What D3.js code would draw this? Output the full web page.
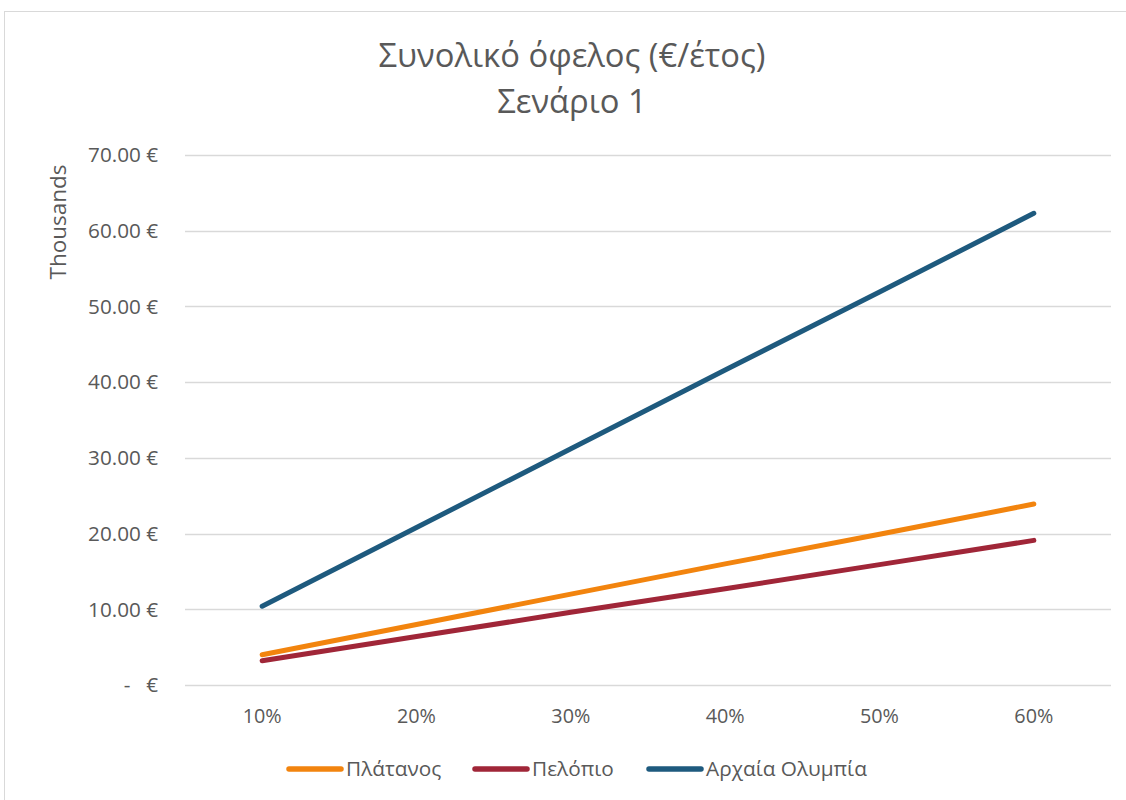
<!DOCTYPE html>
<html><head><meta charset="utf-8">
<script src="https://cdn.jsdelivr.net/npm/d3@7"></script>
<style>body{margin:0;background:#fff}svg{display:block}</style>
</head><body>
<script>
const categories = ["10%","20%","30%","40%","50%","60%"];
const seriesNames = ["Πλάτανος","Πελόπιο","Αρχαία Ολυμπία"];
const platanos = [4.0, 8.0, 12.0, 16.0, 19.9, 23.9];
const pelopio = [3.2, 6.4, 9.6, 12.7, 15.9, 19.1];
const archaiaOlympia = [10.4, 20.8, 31.2, 41.6, 51.9, 62.3];
const yTicks = [0,10,20,30,40,50,60,70];
const colors = ["#F2840E","#A02638","#1E5A7E"];
const titleLines = ["Συνολικό όφελος (€/έτος)","Σενάριο 1"];
const yAxisTitle = "Thousands";

const W=1126,H=800;
const font = "'Open Sans', sans-serif";
const txt = "#595959";
const svg=d3.select("body").append("svg").attr("width",W).attr("height",H);
svg.append("rect").attr("x",4.5).attr("y",11.5).attr("width",1140).attr("height",900)
  .attr("fill","#fff").attr("stroke","#d9d9d9").attr("stroke-width",1);

// measure helper: font size so that `sample` has width `target`
function fitSize(sample, target){
  const t=svg.append("text").attr("font-family",font).attr("font-size",20).text(sample);
  const w=t.node().getComputedTextLength(); t.remove();
  return 20*target/w;
}
const ySize=fitSize("70.00 €",70);
const xSize=fitSize("10%",39);
const legSize=fitSize("Αρχαία Ολυμπία",161);
const titleSize=fitSize(titleLines[0],387);
const yTitleSize=fitSize(yAxisTitle,115);

const plot={left:185,right:1111,top:155,bottom:685};
const x=d3.scaleBand().domain(categories).range([plot.left,plot.right]);
const y=d3.scaleLinear().domain([0,70]).range([plot.bottom,plot.top]);

// gridlines
svg.append("g").selectAll("line").data(yTicks).join("line")
  .attr("x1",plot.left).attr("x2",plot.right)
  .attr("y1",d=>Math.round(y(d))+0.5).attr("y2",d=>Math.round(y(d))+0.5)
  .attr("stroke","#d9d9d9").attr("stroke-width",1.5);

// y labels
const yl=svg.append("g").attr("font-family",font).attr("font-size",ySize).attr("fill",txt);
yTicks.forEach(d=>{
  if(d===0){
    yl.append("text").attr("x",127).attr("y",y(d)).attr("dy","0.35em").attr("text-anchor","middle").text("-");
    yl.append("text").attr("x",158).attr("y",y(d)).attr("dy","0.35em").attr("text-anchor","end").text("€");
  } else {
    yl.append("text").attr("x",158).attr("y",y(d)).attr("dy","0.35em").attr("text-anchor","end").text(d3.format(".2f")(d)+" €");
  }
});

// y axis title
svg.append("text").attr("transform","translate(58,222) rotate(-90)").attr("text-anchor","middle")
  .attr("dy","0.35em").attr("font-family",font).attr("font-size",yTitleSize).attr("fill",txt).text(yAxisTitle);

// x labels
svg.append("g").selectAll("text").data(categories).join("text")
  .attr("x",d=>x(d)+x.bandwidth()/2).attr("y",716).attr("dy","0.35em").attr("text-anchor","middle")
  .attr("font-family",font).attr("font-size",xSize).attr("fill",txt).text(d=>d);

// title
svg.append("g").selectAll("text").data(titleLines).join("text")
  .attr("x",572).attr("y",(d,i)=>67+i*46).attr("text-anchor","middle")
  .attr("font-family",font).attr("font-size",titleSize).attr("fill",txt).text(d=>d);

// lines
const series=[platanos,pelopio,archaiaOlympia];
const line=d3.line().x((d,i)=>x(categories[i])+x.bandwidth()/2).y(d=>y(d));
series.forEach((s,i)=>{
  svg.append("path").datum(s).attr("d",line).attr("fill","none").attr("stroke",colors[i])
    .attr("stroke-width",5).attr("stroke-linecap","round").attr("stroke-linejoin","round");
});

// legend
const legX=[289,475,649];
const lg=svg.append("g");
seriesNames.forEach((n,i)=>{
  lg.append("line").attr("x1",legX[i]).attr("x2",legX[i]+52).attr("y1",769).attr("y2",769)
    .attr("stroke",colors[i]).attr("stroke-width",5.5).attr("stroke-linecap","round");
  lg.append("text").attr("x",legX[i]+57).attr("y",769).attr("dy","0.35em")
    .attr("font-family",font).attr("font-size",legSize).attr("fill",txt).text(n);
});
</script>
</body></html>
